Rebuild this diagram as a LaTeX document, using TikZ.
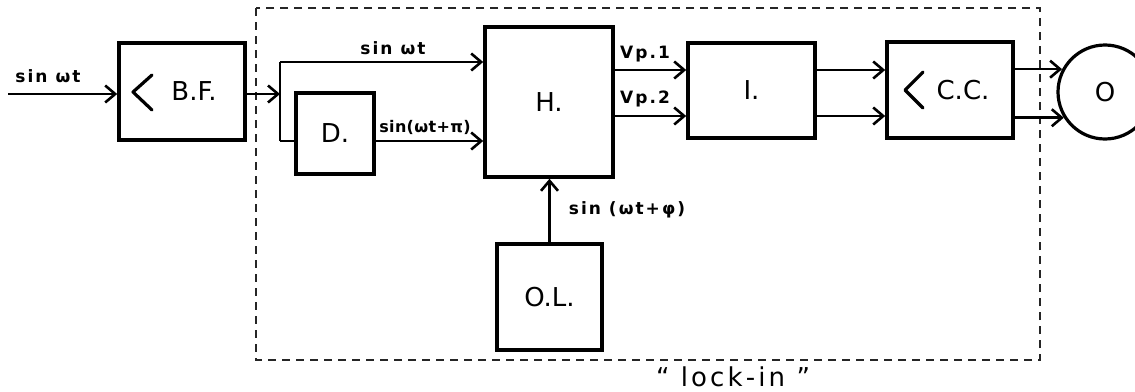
\documentclass[tikz,border=0pt]{standalone}
\usepackage{fontspec}
\setmainfont{DejaVu Sans}
\usetikzlibrary{arrows.meta}
\begin{document}
\begin{tikzpicture}[x=1pt,y=-1pt,
  blk/.style={draw,line width=3.6pt,inner sep=0pt,font=\fontsize{26}{28}\selectfont},
  conn/.style={line width=2.6pt,-{Straight Barb[length=10pt,width=17pt,line width=2.6pt]}},
  wire/.style={line width=2.6pt},
  chev/.style={line width=3.2pt,line cap=round,line join=round},
  lbl/.style={inner sep=0pt,font=\fontsize{17}{19}\selectfont\bfseries\addfontfeature{LetterSpace=12}},
  big/.style={inner sep=0pt,font=\fontsize{26}{28}\selectfont\addfontfeature{LetterSpace=12}},
  frame/.style={draw=black!85,line width=1.5pt,dash pattern=on 8pt off 6pt}
]
\clip (0,0) rectangle (1135,391);
\fill[white] (0,0) rectangle (1135,391);

% dashed lock-in frame
\draw[frame] (256,8) rectangle (1040,360);
\node[big] (lk) at (733,377) {“ lock-in ”};

% blocks
\node[blk,minimum width=126pt,minimum height=97pt] (bf) at (182,91.5) {\hspace*{24pt}B.F.};
\node[blk,minimum width=78pt,minimum height=81pt] (D) at (335,133.5) {D.};
\node[blk,minimum width=128pt,minimum height=150pt] (H) at (549,102) {H.};
\node[blk,minimum width=127pt,minimum height=95pt] (I) at (751.5,90.5) {I.};
\node[blk,minimum width=126pt,minimum height=96pt] (CC) at (950,90) {\hspace*{26pt}C.C.};
\node[blk,minimum width=105pt,minimum height=106pt] (OL) at (549.5,297) {O.L.};
\node[blk,circle,minimum size=94pt,line width=3.2pt] (O) at (1105,92) {O};

% chevrons
\draw[chev] (152,75) -- (133,92) -- (152,110);
\draw[chev] (923,72) -- (905,90) -- (923,108);

% input
\coordinate (in) at (8,94);
\draw[conn] (in) -- (in -| bf.west);
\node[lbl] (lin) at (48,76) {sin ωt};

% split to H and D
\coordinate (sp) at (280,94);
\coordinate (st) at (280,62);
\coordinate (sb) at (280,141);
\draw[conn] (sp -| bf.east) -- (sp);
\draw[wire] (sb) -- (st);
\draw[conn] (st) -- (st -| H.west);
\draw[wire] (sb) -- (sb -| D.west);
\draw[conn] (D.east |- sb) -- (sb -| H.west);
\node[lbl] (l1) at (393,48) {sin ωt};
\node[lbl,font=\fontsize{16}{18}\selectfont\bfseries\addfontfeature{LetterSpace=2}] (l2) at (425,127) {sin(ωt+π)};

% H to I
\coordinate (v1) at (613,70);
\coordinate (v2) at (613,116);
\draw[conn] (v1 -| H.east) -- (v1 -| I.west);
\draw[conn] (v2 -| H.east) -- (v2 -| I.west);
\node[lbl] (lv1) at (645,54) {Vp.1};
\node[lbl] (lv2) at (645,99) {Vp.2};

% I to CC
\draw[conn] (v1 -| I.east) -- (v1 -| CC.west);
\draw[conn] (v2 -| I.east) -- (v2 -| CC.west);

% CC to O
\draw[conn] (CC.east |- O.152) -- (O.152);
\draw[conn] (CC.east |- O.212) -- (O.212);

% OL to H
\draw[conn] (OL.north) -- (OL.north |- H.south);
\node[lbl] (l3) at (627,210) {sin (ωt+φ)};
\end{tikzpicture}
\end{document}
